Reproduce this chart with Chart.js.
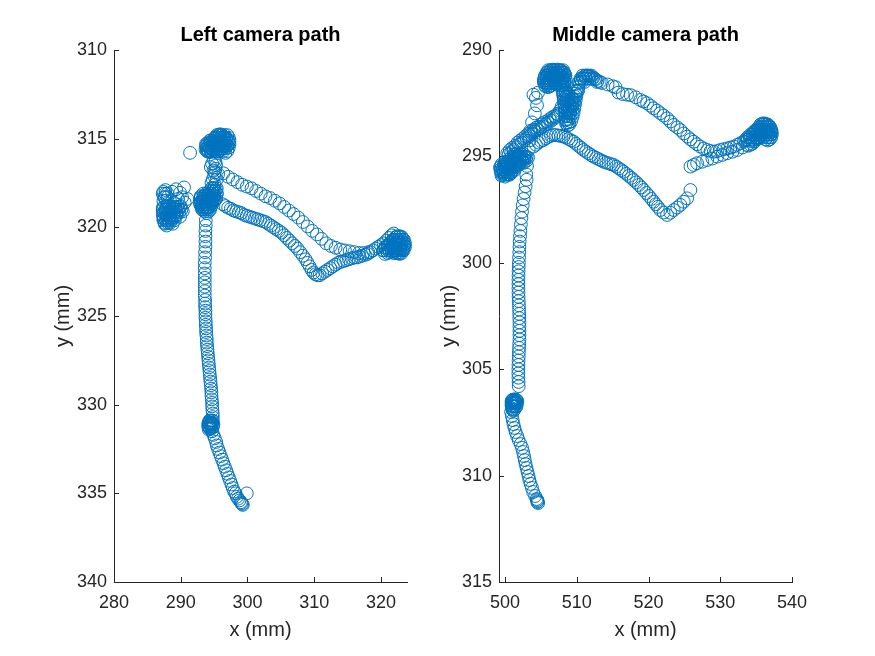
<!DOCTYPE html>
<html><head><meta charset="utf-8">
<script src="https://cdn.jsdelivr.net/npm/chart.js@4/dist/chart.umd.min.js"></script>
<style>
html,body{margin:0;padding:0;background:#fff;}
#wrap{position:relative;width:875px;height:656px;background:#fff;overflow:hidden;}
canvas{position:absolute;left:0;top:0;}
</style></head><body>
<div id="wrap"><canvas id="c1" width="875" height="656"></canvas><canvas id="c2" width="875" height="656"></canvas></div>
<script>
// ---------- Left camera path (x, y in mm) ----------
const leftTailX = [294.7,294.9,295.1,295.3,295.4,295.6,295.8,296.0,296.2,296.4,296.6,296.8,297.0,297.2,297.4,297.6,297.8,298.0,298.2,298.4,298.6,298.8,299.0,299.2,299.3,299.1,299.9];
const leftTailY = [331.5,331.7,331.9,332.1,332.3,332.5,332.7,332.9,333.1,333.3,333.5,333.7,333.9,334.1,334.3,334.5,334.7,334.9,335.0,335.2,335.3,335.4,335.5,335.6,335.65,335.55,335.0];
const leftKnotX = [294.2,294.4,294.1,294.3,294.5,294.6,294.8,294.4,294.2,294.6,294.9,294.3, 294.3,294.6,294.15,294.45,294.75,294.25,294.55,294.85,294.35,294.65];
const leftKnotY = [331.0,331.1,331.2,331.3,331.2,331.0,330.9,330.9,331.4,331.3,331.1,331.1, 330.9,330.9,331.05,331.05,331.05,331.2,331.2,331.2,331.35,331.35];
const leftColumnX = [294.8,294.8,294.75,294.7,294.7,294.65,294.6,294.6,294.55,294.5,294.45,294.4,294.35,294.3,294.25,294.2,294.15,294.1,294.05,294.0,293.95,293.9,293.9,293.85,293.8,293.8,293.75,293.75,293.7,293.7,293.7,293.65,293.65,293.65,293.6,293.6,293.6,293.6,293.6,293.6,293.6,293.6,293.65,293.65,293.7,293.7,293.7,293.7,293.75,293.75];
const leftColumnY = [330.7,330.5,330.3,330.1,329.9,329.7,329.5,329.3,329.1,328.9,328.7,328.5,328.3,328.1,327.9,327.7,327.5,327.3,327.1,326.9,326.7,326.5,326.3,326.1,325.9,325.7,325.5,325.3,325.1,324.9,324.7,324.5,324.3,324.1,323.85,323.6,323.35,323.1,322.85,322.6,322.3,322.0,321.7,321.4,321.1,320.8,320.5,320.2,319.9,319.6];
const leftJunctionX = [293.0,293.2,293.4,293.6,293.3,293.1,293.5,293.8,294.0,294.2,293.9,294.3,294.5,294.7,294.9,295.1,295.3,295.0,294.8,294.6,294.4,295.2,294.1,293.7,293.3,292.9,293.6,294.0,294.7,295.4,
  294.6,295.0,295.4, 294.3,294.7,295.1, 293.4,293.8,294.2,294.6,295.0,295.4, 293.0,293.4,293.8,294.2,294.6,295.0, 292.9,293.3,293.7,294.1,294.5,294.9,295.3, 293.0,293.4,293.8,294.2,294.6,295.0, 292.9,293.3,293.7,294.1,294.5, 293.1,293.5,293.9,294.3, 293.2,293.6,294.0];
const leftJunctionY = [318.3,318.6,318.9,319.1,319.0,318.8,318.5,318.7,318.9,319.1,319.2,318.6,318.3,318.0,317.8,317.6,317.9,318.2,318.5,318.8,319.0,318.4,318.2,318.2,318.4,318.6,318.8,318.5,318.6,318.1,
  317.8,317.8,317.8, 317.95,317.95,317.95, 318.1,318.1,318.1,318.1,318.1,318.1, 318.25,318.25,318.25,318.25,318.25,318.25, 318.4,318.4,318.4,318.4,318.4,318.4,318.4, 318.55,318.55,318.55,318.55,318.55,318.55, 318.7,318.7,318.7,318.7,318.7, 318.85,318.85,318.85,318.85, 319.0,319.0,319.0];
const leftNeckX = [294.6,294.8,295.0,295.1,295.2,295.3,295.2,295.0,294.7,294.5,294.9,295.4,295.6];
const leftNeckY = [317.5,317.3,317.1,316.9,316.7,316.5,316.3,316.2,316.4,316.6,316.8,317.3,317.0];
const leftTopX = [293.7,293.9,294.1,294.3,294.0,293.8,294.2,294.5,294.7,294.9,294.6,294.4,295.0,295.3,295.6,295.9,296.2,296.5,296.8,297.1,297.3,297.2,297.0,296.7,296.4,296.1,295.8,295.5,295.2,295.0,295.4,295.8,296.2,296.6,296.9,296.3,295.6,291.4,
  295.4,295.8,296.2,296.6,297.0, 295.2,295.6,296.0,296.4,296.8,297.2, 294.5,294.9,295.3,295.7,296.1,296.5,296.9,297.3, 294.0,294.4,294.8,295.2,295.6,296.0,296.4,296.8,297.2, 293.8,294.2,294.6,295.0,295.4,295.8,296.2,296.6,297.0, 293.9,294.3,294.7,295.1,295.5,295.9,296.3,296.7, 294.1,294.5,294.9,295.3,295.7];
const leftTopY = [315.6,315.7,315.7,315.5,315.4,315.3,315.75,315.75,315.6,315.4,315.2,315.1,315.0,314.9,314.8,314.75,314.8,314.9,315.0,315.1,315.3,315.5,315.7,315.8,315.7,315.6,315.7,315.8,315.6,315.3,315.2,315.1,315.2,315.3,315.4,315.45,315.4,315.8,
  314.8,314.8,314.8,314.8,314.8, 314.95,314.95,314.95,314.95,314.95,314.95, 315.1,315.1,315.1,315.1,315.1,315.1,315.1,315.1, 315.25,315.25,315.25,315.25,315.25,315.25,315.25,315.25,315.25, 315.4,315.4,315.4,315.4,315.4,315.4,315.4,315.4,315.4, 315.55,315.55,315.55,315.55,315.55,315.55,315.55,315.55, 315.7,315.7,315.7,315.7,315.7];
const leftWestX = [287.4,287.7,288.0,287.5,287.8,288.7,289.3,289.9,290.5,290.2,289.6,289.0,287.3,287.5,287.4,287.6,287.9,288.2,288.5,288.8,289.1,289.4,289.7,290.0,290.3,289.9,288.0,287.8,288.3,288.7,289.2,290.6,291.0,
  287.5,287.9,288.3,288.7,289.1,289.5,289.9, 287.3,287.7,288.1,288.5,288.9,289.3,289.7,290.1, 287.4,287.8,288.2,288.6,289.0,289.4,289.8, 287.3,287.7,288.1,288.5,288.9,289.3, 287.5,287.9,288.3,288.7,289.1, 287.4,287.8,288.2,288.6, 287.6,288.0,288.4, 287.3,287.7,287.6,288.0,287.4];
const leftWestY = [318.0,317.9,318.1,318.3,318.5,318.0,317.85,318.05,317.75,318.3,318.4,318.6,318.9,319.2,319.5,319.8,319.9,319.7,319.5,319.8,319.6,319.3,319.0,318.8,319.1,319.4,319.3,319.0,318.8,319.1,318.9,318.6,318.4,
  318.85,318.85,318.85,318.85,318.85,318.85,318.85, 319.0,319.0,319.0,319.0,319.0,319.0,319.0,319.0, 319.15,319.15,319.15,319.15,319.15,319.15,319.15, 319.3,319.3,319.3,319.3,319.3,319.3, 319.45,319.45,319.45,319.45,319.45, 319.6,319.6,319.6,319.6, 319.75,319.75,319.75, 318.1,318.1,318.3,318.3,318.5];
const leftUpperArmX = [296.4,297.1,297.8,298.5,299.2,299.9,300.6,301.3,302.0,302.7,303.4,304.1,304.8,305.5,306.2,306.9,307.6,308.3,309.0,309.7,310.4,311.1,311.8,312.5,313.2,313.9,314.6,315.3,316.0,316.7,317.4,318.1];
const leftUpperArmY = [316.95,317.15,317.3,317.45,317.6,317.7,317.8,317.95,318.1,318.25,318.35,318.5,318.65,318.85,319.05,319.25,319.45,319.7,319.95,320.2,320.4,320.65,320.9,321.05,321.15,321.25,321.3,321.35,321.4,321.45,321.45,321.4];
const leftLowerArmX = [296.3,296.7,297.1,297.5,297.9,298.3,298.7,299.1,299.5,299.9,300.3,300.7,301.1,301.5,301.9,302.3,302.7,303.1,303.5,303.9,304.3,304.7,305.1,305.5,305.9,306.3,306.7,307.1,307.5,307.9,308.3,308.7,309.0,309.3,309.6,309.9,310.2,310.5,310.8];
const leftLowerArmY = [318.7,318.8,318.9,318.95,319.05,319.1,319.15,319.2,319.3,319.35,319.4,319.45,319.5,319.55,319.6,319.65,319.7,319.8,319.9,320.0,320.1,320.2,320.3,320.45,320.6,320.75,320.9,321.05,321.2,321.4,321.6,321.8,322.0,322.2,322.4,322.55,322.65,322.7,322.7];
const leftReturnX = [311.2,311.6,312.0,312.4,312.8,313.2,313.6,314.0,314.4,314.8,315.2,315.6,316.0,316.4,316.8,317.2,317.6,318.0,318.4,318.8,319.2,319.6,320.0,320.4,320.8,321.2,321.6,321.9];
const leftReturnY = [322.6,322.5,322.4,322.3,322.2,322.1,322.0,321.95,321.9,321.85,321.8,321.75,321.7,321.7,321.65,321.6,321.55,321.5,321.4,321.3,321.2,321.1,321.0,320.9,320.75,320.6,320.45,320.35];
const leftEastX = [320.3,320.7,321.1,321.5,321.9,322.2,322.5,322.8,323.1,323.4,323.6,323.6,323.4,323.1,322.8,322.5,322.2,321.9,321.6,321.3,322.3,322.7,323.0,323.2,321.8,322.0,322.6,323.3,322.9,321.0,320.6,
  322.3,322.7,323.1, 321.8,322.2,322.6,323.0,323.4, 321.4,321.8,322.2,322.6,323.0,323.4, 321.0,321.4,321.8,322.2,322.6,323.0,323.5, 320.6,321.0,321.4,321.8,322.2,322.6,323.0,323.4, 320.4,320.8,321.2,321.6,322.0,322.4,322.8,323.2, 321.9,322.3,322.7];
const leftEastY = [321.3,321.15,321.0,320.85,320.7,320.55,320.5,320.5,320.55,320.7,320.9,321.1,321.3,321.45,321.5,321.45,321.35,321.3,321.35,321.4,320.9,320.95,321.0,320.85,321.05,321.15,321.2,321.25,321.25,321.45,321.5,
  320.55,320.55,320.55, 320.7,320.7,320.7,320.7,320.7, 320.85,320.85,320.85,320.85,320.85,320.85, 321.0,321.0,321.0,321.0,321.0,321.0,321.0, 321.15,321.15,321.15,321.15,321.15,321.15,321.15,321.15, 321.3,321.3,321.3,321.3,321.3,321.3,321.3,321.3, 321.45,321.45,321.45];

// ---------- Middle camera path (x, y in mm) ----------
const midTailX = [500.84,500.95,501.06,501.17,501.30,501.47,501.68,501.89,502.16,502.37,502.51,502.63,502.74,502.85,502.99,503.13,503.27,503.39,503.56,503.74,503.91,504.19,504.47,504.61,504.5,504.55,504.4];
const midTailY = [307.01,307.20,307.39,307.58,307.76,307.95,308.14,308.33,308.52,308.70,308.89,309.08,309.27,309.46,309.64,309.83,310.02,310.21,310.39,310.58,310.77,310.96,311.15,311.29,311.25,311.2,311.1];
const midKnotX = [500.9,501.0,501.2,501.4,501.6,501.7,500.9,501.0,501.15,501.3,501.5,501.6,500.95,501.1,501.25,501.45, 501.05,501.3,501.55,500.9,501.15,501.4,501.65,500.95,501.2,501.45,501.05,501.3];
const midKnotY = [306.5,306.45,306.42,306.42,306.45,306.5,306.7,306.85,306.95,306.7,306.6,306.75,306.6,306.55,306.5,306.55, 306.45,306.45,306.45,306.6,306.6,306.6,306.6,306.75,306.75,306.75,306.9,306.9];
const midColumnX = [501.9,501.88,501.86,501.85,501.85,501.86,501.88,501.9,501.92,501.95,501.97,502.0,502.0,502.0,502.0,502.0,501.98,501.97,501.95,501.93,501.9,501.88,501.87,501.86,501.86,501.86,501.87,501.88,501.9,501.92,501.95,501.98,502.0,502.03,502.08,502.13,502.2,502.28,502.36,502.46,502.58,502.72,502.86,503.0];
const midColumnY = [305.8,305.6,305.4,305.2,305.0,304.8,304.6,304.4,304.2,304.0,303.8,303.6,303.4,303.2,303.0,302.8,302.6,302.4,302.2,302.0,301.8,301.6,301.4,301.2,301.0,300.8,300.6,300.4,300.2,300.0,299.75,299.5,299.25,299.0,298.75,298.5,298.2,297.9,297.6,297.3,297.0,296.7,296.4,296.1];
const midChainX = [502.95,503.05,503.2,503.3,503.4,503.5,503.75,504.15,504.45,504.3,503.95,504.6];
const midChainY = [295.85,295.45,295.05,294.65,294.25,293.8,293.4,292.98,292.6,292.25,292.1,292.0];
const midTopX = [505.4,505.6,505.8,505.5,505.9,506.1,506.4,506.7,507.0,507.3,507.6,507.9,508.2,508.4,508.45,508.3,508.0,507.7,507.4,507.1,506.8,506.5,506.2,505.9,506.0,506.3,507.0,507.6,508.1,506.6,507.3,507.9,
  506.0,506.35,506.7,507.05,507.4,507.75,508.1, 505.8,506.15,506.5,506.85,507.2,507.55,507.9,508.25, 505.6,505.95,506.3,506.65,507.0,507.35,507.7,508.05,508.4, 505.5,505.85,506.2,506.55,506.9,507.25,507.6,507.95,508.3, 505.4,505.75,506.1,506.45,506.8,507.15,507.5,507.85,508.2, 505.5,505.85,506.2,506.55,506.9,507.25,507.6,507.95,508.3, 505.6,505.95,506.3,507.7,508.05];
const midTopY = [291.5,291.7,291.55,291.3,291.2,291.0,290.95,290.92,290.95,290.92,290.95,291.0,291.05,291.2,291.4,291.6,291.65,291.5,291.4,291.3,291.2,291.3,291.45,291.6,291.75,291.7,291.6,291.2,291.3,291.1,291.15,291.35,
  290.95,290.95,290.95,290.95,290.95,290.95,290.95, 291.07,291.07,291.07,291.07,291.07,291.07,291.07,291.07, 291.19,291.19,291.19,291.19,291.19,291.19,291.19,291.19,291.19, 291.31,291.31,291.31,291.31,291.31,291.31,291.31,291.31,291.31, 291.43,291.43,291.43,291.43,291.43,291.43,291.43,291.43,291.43, 291.55,291.55,291.55,291.55,291.55,291.55,291.55,291.55,291.55, 291.67,291.67,291.67,291.67,291.67];
const midBendX = [508.0,508.1,508.2,508.25,508.3,508.35,508.4,508.45,508.5,508.7,508.95,509.2,509.4,509.55,509.65,509.75,509.85,509.95,510.05,510.2,510.35,510.55,510.8,511.1,511.4,511.7,512.0,512.3,512.6,512.9,513.2,508.6,508.8,509.0,508.5,509.2,509.4,
  508.0,508.4,509.9,510.2, 508.1,508.45,508.8,509.8, 508.15,508.5,508.85,509.2,509.75, 508.2,508.55,508.9,509.25,509.6, 508.25,508.6,508.95,509.3,509.6, 508.3,508.65,509.0,509.35, 508.35,508.7,509.05,509.4, 508.4,508.75,509.1, 508.45,508.8,509.15, 508.5,508.85, 508.6,508.9, 510.8,511.2,511.6,512.0, 510.5,510.9,511.3,511.7,512.1,512.5, 510.3,510.7,511.1,512.8];
const midBendY = [291.9,292.1,292.3,292.5,292.7,292.9,293.1,293.3,293.45,293.55,293.5,293.35,293.15,292.95,292.75,292.55,292.35,292.15,291.95,291.75,291.55,291.4,291.3,291.22,291.2,291.22,291.25,291.3,291.38,291.45,291.5,292.4,292.8,293.0,292.0,292.6,292.3,
  291.9,291.9,291.9,291.9, 292.05,292.05,292.05,292.05, 292.2,292.2,292.2,292.2,292.2, 292.35,292.35,292.35,292.35,292.35, 292.5,292.5,292.5,292.5,292.5, 292.65,292.65,292.65,292.65, 292.8,292.8,292.8,292.8, 292.95,292.95,292.95, 293.1,293.1,293.1, 293.25,293.25, 293.4,293.4, 291.2,291.2,291.2,291.2, 291.35,291.35,291.35,291.35,291.35,291.35, 291.5,291.5,291.5,291.5];
const midUpperArmX = [513.5,514.3,515.0,515.4,515.8,516.4,517.0,517.5,518.2,518.85,519.3,519.8,520.25,520.7,521.2,521.65,522.1,522.6,523.05,523.5,524.0,524.45,524.9,525.4,525.85,526.3,526.75,527.2,527.7,528.2,528.65,529.1,529.55,530.0,530.5,531.0,531.45,531.9,532.35,532.8];
const midUpperArmY = [291.55,291.62,291.7,291.75,292.0,292.07,292.1,292.12,292.22,292.35,292.42,292.5,292.62,292.74,292.85,292.97,293.08,293.21,293.36,293.52,293.64,293.76,293.92,294.07,294.2,294.31,294.43,294.54,294.63,294.7,294.75,294.78,294.75,294.7,294.66,294.62,294.58,294.54,294.46,294.38];
const midEastX = [533.3,533.7,534.1,534.5,534.9,535.3,535.6,535.9,536.2,536.5,536.8,537.0,537.15,537.2,537.1,536.9,536.6,536.3,536.0,535.7,535.4,535.1,534.8,534.5,536.1,536.5,536.8,535.8,535.5,534.2,533.9,
  535.9,536.25,536.6, 535.4,535.75,536.1,536.45,536.8, 535.0,535.35,535.7,536.05,536.4,536.75,537.05, 534.6,534.95,535.3,535.65,536.0,536.35,536.7,537.1, 534.2,534.55,534.9,535.25,535.6,535.95,536.3,536.65,537.0, 533.8,534.15,534.5,534.85,535.2,536.5,536.85, 533.5,533.85,534.2,534.55];
const midEastY = [294.3,294.2,294.1,293.95,293.8,293.65,293.5,293.45,293.45,293.5,293.55,293.65,293.8,293.95,294.1,294.2,294.25,294.2,294.1,294.05,294.1,294.2,294.3,294.4,293.75,293.85,293.95,293.8,293.9,294.45,294.5,
  293.5,293.5,293.5, 293.62,293.62,293.62,293.62,293.62, 293.74,293.74,293.74,293.74,293.74,293.74,293.74, 293.86,293.86,293.86,293.86,293.86,293.86,293.86,293.86, 293.98,293.98,293.98,293.98,293.98,293.98,293.98,293.98,293.98, 294.1,294.1,294.1,294.1,294.1,294.1,294.1, 294.22,294.22,294.22,294.22];
const midStrandX = [525.84,526.3,526.77,527.5,528.17,528.9,529.57,530.3,530.96,531.7,532.36,533.1,533.76,534.5,535.15];
const midStrandY = [295.48,295.4,295.32,295.25,295.17,295.1,295.01,294.93,294.85,294.78,294.70,294.58,294.46,294.3,294.15];
const midLowerArmX = [503.95,504.3,504.65,505.0,505.35,505.7,506.05,506.4,506.75,507.1,507.45,507.8,508.14,508.5,508.85,509.2,509.54,509.9,510.25,510.6,510.94,511.3,511.65,512.0,512.33,512.7,513.05,513.4,513.73,514.1,514.45,514.8,515.13,515.5,515.85,516.2,516.52,516.9,517.25,517.6,517.92,518.3,518.65,519.0,519.32,519.7,520.05,520.4,520.71,521.0,521.3,521.65,522.1,522.58,523.05,523.51,524.0,524.44,524.9,525.38,525.84];
const midLowerArmY = [294.54,294.45,294.35,294.28,294.23,294.15,294.08,294.03,293.99,294.0,294.02,294.04,294.07,294.12,294.18,294.25,294.31,294.41,294.51,294.6,294.7,294.78,294.86,294.94,295.01,295.07,295.13,295.19,295.25,295.29,295.33,295.37,295.4,295.48,295.56,295.64,295.72,295.82,295.92,296.01,296.11,296.22,296.34,296.46,296.58,296.72,296.86,297.0,297.13,297.25,297.37,297.52,297.64,297.75,297.65,297.52,297.4,297.28,297.13,296.97,296.58];
const midWestX = [499.3,499.4,499.5,499.7,499.8,500.0,500.2,500.4,500.6,500.8,500.5,500.2,499.9,500.9,501.2,501.4,501.6,501.8,502.0,502.2,502.5,502.8,503.0,502.6,502.3,501.9,501.5,501.1,500.7,501.3,500.3,
  501.2,501.55,501.9,502.25,502.6, 500.9,501.25,501.6,501.95,502.3,502.65,503.0, 500.6,500.95,501.3,501.65,502.0,502.35,502.7, 500.0,500.35,500.7,501.05,501.4,501.75,502.1,502.45, 499.5,499.85,500.2,500.55,500.9,501.25,501.6,501.95, 499.4,499.75,500.1,500.45,500.8,501.15,501.5, 499.35,499.7,500.05,500.4,500.75,501.1, 499.45,499.8,500.15,500.5,500.85, 499.6,499.95,500.3,500.65];
const midWestY = [295.5,295.7,295.9,295.6,295.8,295.95,295.7,295.85,295.6,295.8,295.45,295.35,295.4,295.3,295.1,294.9,295.05,295.25,295.0,294.9,295.1,295.0,295.2,295.3,295.2,295.4,295.35,295.5,295.2,295.65,295.55,
  294.9,294.9,294.9,294.9,294.9, 295.02,295.02,295.02,295.02,295.02,295.02,295.02, 295.14,295.14,295.14,295.14,295.14,295.14,295.14, 295.26,295.26,295.26,295.26,295.26,295.26,295.26,295.26, 295.38,295.38,295.38,295.38,295.38,295.38,295.38,295.38, 295.5,295.5,295.5,295.5,295.5,295.5,295.5, 295.62,295.62,295.62,295.62,295.62,295.62, 295.74,295.74,295.74,295.74,295.74, 295.86,295.86,295.86,295.86];
const midDiagX = [500.3,500.65,501.0,501.4,501.75,502.1,502.5,502.85,503.2,503.6,503.95,504.3,504.7,505.1,505.45,505.85,506.2,506.6,506.95,507.3,507.65,507.9,
  500.5,500.85,501.2,501.55,501.9,502.3,502.65,503.0,503.4,503.75,504.1,504.5,504.9,505.25,505.65,506.0,506.4,506.75,507.1,507.45];
const midDiagY = [294.85,294.7,294.6,294.5,294.35,294.25,294.15,294.05,293.95,293.85,293.75,293.65,293.6,293.5,293.4,293.35,293.25,293.15,293.1,293.0,292.85,292.65,
  294.9,294.8,294.7,294.58,294.45,294.35,294.25,294.15,294.05,293.93,293.83,293.75,293.68,293.6,293.5,293.42,293.33,293.24,293.15,293.05];

// ---------- Ticks and texts ----------
const leftXTicks = [280,290,300,310,320];
const leftYTicks = [310,315,320,325,330,335,340];
const midXTicks = [500,510,520,530,540];
const midYTicks = [290,295,300,305,310,315];
const plotTitles = ['Left camera path','Middle camera path'];
const xLabel = 'x (mm)';
const yLabel = 'y (mm)';

const leftX = [].concat(leftTailX,leftKnotX,leftColumnX,leftJunctionX,leftNeckX,leftTopX,leftWestX,leftUpperArmX,leftLowerArmX,leftReturnX,leftEastX);
const leftY = [].concat(leftTailY,leftKnotY,leftColumnY,leftJunctionY,leftNeckY,leftTopY,leftWestY,leftUpperArmY,leftLowerArmY,leftReturnY,leftEastY);
const midX = [].concat(midTailX,midKnotX,midColumnX,midChainX,midTopX,midBendX,midUpperArmX,midEastX,midStrandX,midLowerArmX,midWestX,midDiagX);
const midY = [].concat(midTailY,midKnotY,midColumnY,midChainY,midTopY,midBendY,midUpperArmY,midEastY,midStrandY,midLowerArmY,midWestY,midDiagY);

const FONT = "'Liberation Sans', Arial, Helvetica, sans-serif";
const AXIS = '#262626';

const inwardTicks = {
  id: 'inwardTicks',
  beforeDatasetsDraw(chart) {
    const {ctx, chartArea: a, scales: {x, y}} = chart;
    ctx.save();
    ctx.strokeStyle = AXIS; ctx.lineWidth = 1;
    ctx.beginPath();
    x.ticks.forEach(t => { const p = Math.round(x.getPixelForValue(t.value)) + 0.5; ctx.moveTo(p, a.bottom); ctx.lineTo(p, a.bottom - 5); });
    y.ticks.forEach(t => { const p = Math.round(y.getPixelForValue(t.value)) + 0.5; ctx.moveTo(a.left, p); ctx.lineTo(a.left + 5, p); });
    ctx.stroke();
    ctx.restore();
  }
};

function makeChart(id, xs, ys, o) {
  const pts = xs.map((x, i) => ({x: x, y: ys[i]}));
  return new Chart(document.getElementById(id), {
    type: 'scatter',
    data: {datasets: [{
      data: pts, pointStyle: 'circle', pointRadius: 6.4, pointHoverRadius: 6.4,
      pointBorderWidth: 1, borderColor: '#0072BD', pointBorderColor: '#0072BD',
      backgroundColor: 'rgba(0,0,0,0)', pointBackgroundColor: 'rgba(0,0,0,0)',
      clip: false, showLine: false
    }]},
    options: {
      responsive: false, animation: false, devicePixelRatio: 1, events: [],
      layout: {padding: {left: o.padLeft, right: o.padRight, top: 0, bottom: 0}},
      plugins: {
        legend: {display: false}, tooltip: {enabled: false},
        title: {display: true, text: o.title, fullSize: false, color: '#000',
          font: {family: FONT, size: 20, weight: 'bold', lineHeight: 1.2}, padding: {top: 23, bottom: 3}}
      },
      scales: {
        x: {
          type: 'linear', position: 'bottom', min: o.xMin, max: o.xMax,
          afterBuildTicks: s => { s.ticks = o.xTicks.map(v => ({value: v})); },
          afterFit: s => { s.height = 74; },
          grid: {display: true, drawOnChartArea: false, drawTicks: false},
          border: {display: true, color: AXIS, width: 1},
          ticks: {color: AXIS, font: {family: FONT, size: 18}, padding: 10, maxRotation: 0, autoSkip: false},
          title: {display: true, text: xLabel, color: AXIS, font: {family: FONT, size: 20}, padding: 14}
        },
        y: {
          type: 'linear', position: 'left', reverse: true, min: o.yMin, max: o.yMax,
          afterBuildTicks: s => { s.ticks = o.yTicks.map(v => ({value: v})); },
          afterFit: s => { s.width = o.yWidth; },
          grid: {display: true, drawOnChartArea: false, drawTicks: false},
          border: {display: true, color: AXIS, width: 1},
          ticks: {color: AXIS, font: {family: FONT, size: 18}, padding: 7, autoSkip: false},
          title: {display: true, text: yLabel, color: AXIS, font: {family: FONT, size: 20}, padding: o.yTitlePad}
        }
      }
    },
    plugins: [inwardTicks]
  });
}

makeChart('c1', leftX, leftY, {title: plotTitles[0], padLeft: 0, padRight: 468, yWidth: 114, yTitlePad: 51,
  xMin: 280, xMax: 323.9, yMin: 310, yMax: 340, xTicks: leftXTicks, yTicks: leftYTicks});
makeChart('c2', midX, midY, {title: plotTitles[1], padLeft: 420, padRight: 83, yWidth: 79, yTitlePad: 17,
  xMin: 499.15, xMax: 540, yMin: 290, yMax: 315, xTicks: midXTicks, yTicks: midYTicks});
</script>
</body></html>
